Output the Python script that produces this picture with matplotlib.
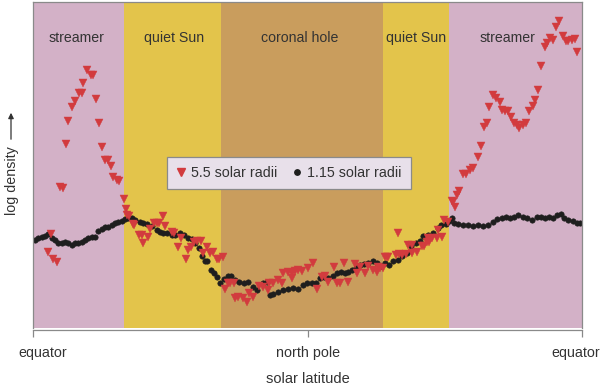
import matplotlib
matplotlib.use("Agg")
import matplotlib.pyplot as plt
from matplotlib.lines import Line2D
from matplotlib.transforms import ScaledTranslation

plt.rcParams['font.family'] = ['Liberation Sans', 'DejaVu Sans']

# ---- data (arbitrary units: x = position along equator -> pole -> equator, y = log density) ----
x_ticks = [0, 275, 549]
x_ticklabels = ["equator", "north pole", "equator"]

region_edges = [0, 91, 188, 349.5, 416, 549]
region_names = ["streamer", "quiet Sun", "coronal hole", "quiet Sun", "streamer"]
region_label_x = [43.5, 141.5, 267, 383.5, 474.5]
region_colors = ["#D3B1C7", "#E3C44B", "#C99D5D", "#E3C44B", "#D3B1C7"]

r55_x = [54, 58, 60, 50, 46, 49, 42, 63, 39, 35, 66, 33, 69, 72, 75, 78, 80, 84, 86, 27, 30,
         91, 93, 94, 18, 15, 20, 24,
         96, 101, 100, 130, 106, 109, 110, 115, 117, 121, 124, 126, 132, 139, 141, 145, 148,
         153, 155, 158, 161, 164, 168, 170, 174, 177, 180, 184, 186, 192, 195,
         190, 197, 201, 202, 205, 210, 214, 216, 220, 226, 230, 236, 240, 235, 245, 249,
         250, 255, 259, 262, 265, 269, 259, 275, 280, 284, 289, 292, 295, 301, 304, 307,
         311, 315, 322, 324, 327, 332, 335, 340, 344, 347, 350, 354,
         345, 352, 355, 365, 363, 366, 369, 373, 379, 384, 375, 379, 389, 391, 394, 396,
         395, 399, 404, 409, 405, 411, 415, 419,
         526, 523, 517, 520, 514, 512, 530, 533, 535, 539, 542, 544, 508, 505, 502, 500,
         496, 460, 463, 467, 456, 469, 472, 475, 478, 481, 484, 486, 490, 493, 454, 451,
         448, 445, 440, 437, 433, 430, 426, 424, 420, 422]
r55_y = [258, 253, 253, 245, 235, 235, 227, 229, 221, 207, 205, 184, 181, 168, 168, 162, 151, 148, 147, 141, 140,
         129, 119, 113, 94, 76, 69, 66,
         112, 103, 104, 112, 93, 93, 85, 91, 99, 105, 105, 105, 102, 96, 95, 81, 90,
         69, 78, 81, 86, 87, 87, 75, 81, 75, 76, 69, 69, 39, 45,
         71, 45, 45, 30, 31, 30, 26, 35, 31, 42, 41, 45, 45, 38, 48, 45,
         55, 56, 55, 57, 58, 57, 50, 60, 65, 39, 51, 52, 46, 61, 45, 45,
         65, 46, 64, 55, 61, 55, 62, 58, 56, 60, 60, 71,
         61, 71, 71, 95, 73, 74, 73, 74, 75, 76, 83, 83, 82, 82, 86, 86,
         90, 90, 90, 91, 98, 108, 106, 127,
         307, 301, 290, 288, 285, 281, 292, 287, 287, 288, 289, 276, 262, 238, 228, 222,
         217, 233, 230, 226, 221, 218, 217, 217, 211, 205, 203, 200, 203, 205, 205, 201,
         182, 171, 160, 158, 154, 154, 137, 133, 126, 121]

r115_x = [2, 5, 9, 12, 15, 19, 22, 25, 29, 32, 35, 39, 42, 45, 49, 52, 55, 59, 62, 65, 69, 72,
          75, 79, 82, 85, 89, 92, 95, 99, 102, 107, 110, 114, 119, 124, 127, 130, 134, 139,
          142, 147, 151, 155, 159, 162, 166, 169, 172, 174, 178, 181, 184, 187, 191, 195,
          198, 202, 206, 211, 215, 220, 224, 230, 234, 237, 240, 245, 250, 255, 260, 265,
          270, 274, 279, 283, 287, 291, 295, 300, 304, 308, 312, 315, 319, 323, 327, 331,
          335, 340, 344, 348, 352, 356, 360, 365, 369, 374, 378, 383, 387, 390, 395, 400,
          405, 408, 413, 416, 419, 421, 425, 430, 435, 440, 445, 450, 455, 460, 464, 469,
          473, 477, 481, 485, 490, 494, 499, 504, 508, 512, 516, 520, 524, 528, 531, 535,
          540, 544, 547]
r115_y = [88, 90, 91, 92, 94, 90, 88, 85, 85, 86, 85, 83, 85, 85, 86, 88, 90, 91, 91, 97, 99, 101,
          101, 103, 105, 106, 107, 109, 110, 110, 108, 106, 105, 104, 102, 98, 96, 95, 95, 93,
          93, 95, 93, 90, 89, 85, 80, 72, 67, 67, 58, 55, 51, 45, 49, 52,
          52, 48, 46, 45, 46, 41, 38, 45, 46, 33, 34, 36, 38, 39, 40, 39,
          43, 45, 45, 45, 50, 51, 50, 52, 55, 56, 55, 56, 58, 60, 63, 64,
          65, 67, 65, 62, 65, 63, 67, 68, 72, 75, 82, 85, 87, 92, 93, 95,
          100, 103, 104, 107, 110, 105, 104, 103, 103, 102, 103, 102, 103, 106, 109, 110,
          111, 110, 111, 113, 111, 110, 108, 111, 111, 110, 111, 110, 113, 114, 110, 108,
          107, 105, 105]

# ---- figure ----
fig = plt.figure(figsize=(6.0, 3.88), dpi=100)
ax = fig.add_axes([33 / 600, 60 / 388, 549 / 600, 326 / 388])

text_color = "#333333"
for i, name in enumerate(region_names):
    ax.axvspan(region_edges[i], region_edges[i + 1], color=region_colors[i], lw=0, zorder=0)
    ax.text(region_label_x[i], 290, name, ha="center", va="center",
            fontsize=10.2, color=text_color, zorder=1)

ax.plot(r115_x, r115_y, linestyle="none", marker="o", markersize=3.9,
        markerfacecolor="#1E1E1E", markeredgecolor="#1E1E1E", markeredgewidth=0.4, zorder=2)
ax.plot(r55_x, r55_y, linestyle="none", marker="v", markersize=5.5,
        markerfacecolor="#D23B3E", markeredgecolor="#D23B3E", markeredgewidth=0.3, zorder=3)

ax.set_xlim(0, 549)
ax.set_ylim(0, 326)
ax.set_xticks(x_ticks)
ax.set_xticklabels([])
ax.set_yticks([])
ax.tick_params(axis="x", direction="out", length=5, width=0.9, color="#888888")
# tick labels drawn as texts so the end labels stay inside the figure, as in the original
label_dx = [10, 0, -6]
for xt, lab, dx in zip(x_ticks, x_ticklabels, label_dx):
    tr = ax.get_xaxis_transform() + ScaledTranslation(dx / 100, -25 / 100, fig.dpi_scale_trans)
    ax.text(xt, 0, lab, transform=tr, ha="center", va="center", fontsize=10.3,
            color=text_color, clip_on=False)
for s in ax.spines.values():
    s.set_color("#8A8A8A")
    s.set_linewidth(0.9)
ax.spines["bottom"].set_position(("outward", 1.5))
ax.xaxis.set_label_coords(0.5, -51 / 326)
ax.set_xlabel("solar latitude", fontsize=10.5, color=text_color, va="center")

handles = [
    Line2D([], [], linestyle="none", marker="v", markersize=5.5,
           markerfacecolor="#D23B3E", markeredgecolor="#D23B3E"),
    Line2D([], [], linestyle="none", marker="o", markersize=3.9,
           markerfacecolor="#1E1E1E", markeredgecolor="#1E1E1E"),
]
leg = ax.legend(handles, ["5.5 solar radii", "1.15 solar radii"], ncol=2,
                loc="center", bbox_to_anchor=(0.4663, 0.4755), fontsize=10.3,
                frameon=True, fancybox=False, handlelength=0.6, handletextpad=0.4,
                columnspacing=1.1, borderpad=0.65, labelcolor=text_color)
leg.get_frame().set_facecolor("#E8E0EA")
leg.get_frame().set_edgecolor("#8A8A8A")
leg.get_frame().set_linewidth(0.9)
leg.get_frame().set_alpha(1)
leg.set_zorder(5)

# y label with arrow
fig.text(12 / 600, 1 - 181 / 388, "log density", rotation=90, ha="center", va="center",
         fontsize=10.3, color=text_color)
fig.add_artist(matplotlib.patches.FancyArrowPatch(
    (11 / 600, 1 - 142 / 388), (11 / 600, 1 - 110 / 388), transform=fig.transFigure,
    arrowstyle="-|>", mutation_scale=8, color="#333333", lw=0.9))

fig.savefig("out.png", dpi=100)
